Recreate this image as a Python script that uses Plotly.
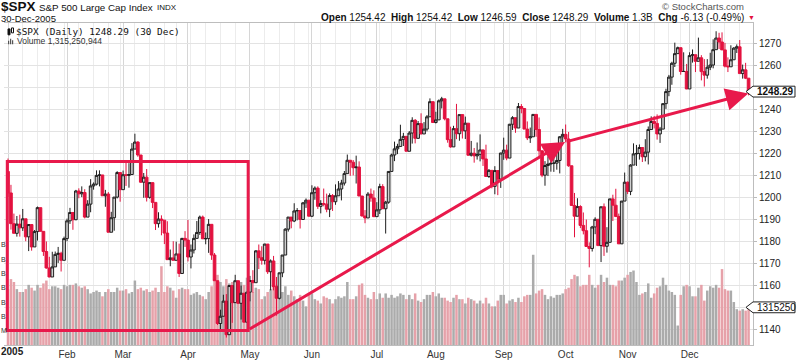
import plotly.graph_objects as go
import pandas as pd

# ---------------- data ----------------
open_ = [
 1211.9,1202.1,1188.1,1183.7,1187.9,1186.2,1190.3,1182.1,1187.7,1177.5,1184.5,1195.4,1184.6,1175.4,1167.9,1163.8,1168.4,1174.1,1174.6,1171.4,
 1181.3,1189.4,1193.2,1189.9,1203.0,1201.7,1202.3,1191.1,1197.0,1205.3,1206.1,1210.1,1210.3,1200.8,1201.6,1184.2,1190.8,1200.2,1211.4,
 1203.6,1210.4,1210.1,1210.5,1222.1,1225.3,1219.4,1207.0,1209.3,1200.1,1206.8,1197.8,1188.1,1190.2,1189.7,1183.8,1171.7,1172.5,1171.4,1174.3,1165.4,1181.4,
 1180.6,1172.9,1176.1,1181.4,1184.1,1191.1,1181.2,1181.3,1187.8,1173.8,1162.1,1142.6,1145.9,1152.8,1137.5,1159.9,1152.1,1162.1,1151.8,1156.4,1143.2,
 1156.9,1162.2,1161.2,1175.7,1172.6,1171.4,1178.8,1166.2,1171.1,1159.4,1154.1,1165.7,1173.8,1185.6,1191.1,1189.3,1193.9,1194.1,1190.0,1197.6,1198.8,
 1191.5,1202.2,1204.3,1196.0,1197.3,1197.0,1194.7,1200.9,1198.1,1200.8,1203.9,1206.6,1210.9,1217.0,1216.1,1213.6,1213.9,1200.7,1191.6,1190.7,1201.6,1199.8,
 1191.3,1194.4,1205.0,1194.9,1197.9,1211.9,1219.4,1222.2,1223.3,1226.5,1227.9,1221.1,1229.4,1235.2,1227.0,1233.7,1229.0,1231.2,1236.8,1243.7,
 1234.2,1235.4,1244.1,1245.0,1235.9,1226.4,1223.1,1231.4,1229.1,1237.8,1230.4,1233.9,1219.3,1220.2,1219.0,1219.7,1221.7,1217.6,1209.6,1212.4,1205.1,1212.3,1208.4,
 1220.3,1221.6,1218.0,1233.4,1236.4,1231.7,1241.5,1240.6,1231.2,1227.2,1227.7,1237.9,1231.0,1221.3,1210.2,1214.6,1215.3,1215.6,1215.7,1216.9,1227.7,
 1228.8,1226.7,1214.5,1196.4,1191.5,1195.9,1187.3,1184.9,1177.7,1176.8,1186.6,1190.1,1178.1,1195.8,1177.8,1179.6,1199.4,1196.5,1191.4,1178.9,1198.4,
 1207.0,1202.8,1214.8,1219.9,1220.1,1222.8,1218.6,1220.7,1231.0,1234.7,1233.8,1229.0,1231.2,1242.8,1248.3,1254.9,1261.2,1265.6,1268.3,1257.46,1257.48,
 1249.5,1264.7,1265.1,1262.1,1263.7,1257.4,1255.8,1259.4,1260.4,1267.4,1272.7,1270.9,1267.3,1259.9,1259.6,1262.8,1268.1,1268.7,1256.5,1258.2,1254.42]
high = [
 1217.8,1205.8,1192.7,1191.6,1192.2,1194.8,1190.3,1187.9,1187.9,1185.2,1195.9,1195.4,1184.6,1180.0,1173.0,1175.3,1175.4,1177.5,1175.3,1182.2,
 1190.4,1195.3,1193.2,1203.5,1204.2,1205.1,1203.8,1198.8,1208.4,1206.9,1212.4,1212.4,1210.3,1203.5,1202.5,1193.5,1200.2,1212.0,1211.4,
 1212.3,1215.9,1215.7,1224.8,1229.1,1225.7,1219.4,1211.2,1213.0,1206.9,1206.9,1197.8,1193.3,1191.9,1189.7,1189.2,1176.3,1180.1,1179.9,1179.0,1181.6,1184.7,
 1189.8,1178.6,1183.2,1189.3,1191.8,1191.8,1184.1,1190.2,1187.8,1174.7,1162.1,1148.9,1155.7,1156.0,1159.9,1159.9,1164.8,1162.1,1159.9,1156.4,1157.0,
 1164.3,1166.9,1176.0,1178.6,1177.8,1178.9,1178.8,1171.8,1173.4,1163.8,1165.8,1173.8,1186.0,1191.1,1191.1,1197.4,1195.2,1194.1,1198.0,1199.6,1198.8,
 1205.6,1205.1,1205.1,1198.8,1204.1,1201.8,1201.9,1201.6,1206.0,1207.5,1208.1,1212.1,1219.6,1217.0,1217.1,1219.1,1216.5,1200.7,1194.3,1202.5,1204.1,1203.3,
 1197.9,1206.3,1206.1,1198.5,1211.9,1220.0,1225.5,1224.5,1233.2,1229.5,1227.9,1230.3,1236.6,1235.8,1234.9,1238.4,1234.4,1237.6,1245.2,1243.7,
 1239.1,1244.7,1245.9,1245.0,1235.9,1232.3,1232.7,1242.7,1237.8,1237.8,1236.9,1233.9,1225.8,1222.6,1225.1,1228.8,1221.9,1224.1,1213.0,1212.4,1214.3,1212.3,1220.4,
 1227.3,1224.1,1233.6,1237.1,1236.4,1243.1,1242.6,1240.6,1234.7,1231.9,1237.9,1237.9,1236.5,1221.5,1216.6,1218.8,1222.6,1220.0,1220.0,1228.0,1231.3,
 1233.3,1229.9,1214.5,1202.1,1199.7,1196.5,1193.2,1190.0,1179.6,1187.1,1191.0,1190.1,1195.8,1197.3,1186.5,1199.4,1201.3,1204.0,1192.7,1198.4,1211.4,
 1207.3,1215.2,1224.7,1224.0,1224.2,1222.8,1226.6,1232.4,1237.0,1237.2,1237.9,1232.2,1242.9,1249.6,1255.9,1261.9,1270.6,1268.8,1268.4,1266.2,1260.9,
 1266.2,1267.5,1265.1,1272.9,1264.9,1263.1,1263.1,1266.0,1272.1,1275.8,1275.1,1275.3,1270.5,1263.9,1269.4,1268.6,1269.8,1271.8,1260.6,1261.4,1254.42]
low = [
 1200.3,1185.4,1183.7,1182.2,1182.2,1184.8,1180.1,1175.6,1175.8,1177.5,1180.4,1184.6,1173.4,1167.6,1163.7,1163.8,1168.4,1170.2,1166.3,1171.4,
 1180.1,1188.0,1185.3,1189.7,1199.7,1200.2,1190.5,1191.1,1193.3,1203.6,1205.5,1205.1,1200.8,1195.8,1184.2,1184.2,1184.9,1199.6,1198.1,
 1203.6,1205.3,1204.5,1210.5,1222.1,1218.6,1206.7,1199.9,1198.2,1199.5,1195.2,1185.2,1186.3,1182.8,1178.8,1171.6,1168.7,1171.4,1171.4,1163.8,1165.4,1177.5,
 1170.9,1167.7,1174.5,1181.4,1183.0,1181.2,1178.7,1174.8,1171.6,1162.1,1141.9,1139.8,1145.9,1136.2,1137.5,1142.9,1152.1,1151.7,1144.4,1143.2,1143.2,
 1152.7,1156.7,1161.2,1167.4,1169.4,1169.5,1165.2,1157.7,1157.7,1146.2,1153.6,1163.7,1173.8,1184.5,1186.0,1188.8,1189.6,1185.9,1190.0,1195.3,1191.5,
 1191.1,1199.0,1194.8,1192.8,1196.0,1193.3,1191.1,1193.9,1196.7,1200.8,1198.7,1205.5,1210.9,1209.9,1210.1,1206.4,1200.7,1191.4,1188.3,1190.7,1198.1,1191.1,
 1191.3,1192.5,1194.8,1183.6,1197.2,1211.9,1216.6,1219.8,1223.3,1223.5,1221.1,1221.1,1224.6,1224.7,1226.8,1228.8,1229.0,1230.2,1236.8,1234.2,
 1233.8,1235.4,1240.6,1235.2,1225.0,1222.7,1223.1,1226.6,1225.9,1226.9,1226.7,1219.1,1218.7,1215.9,1217.3,1216.5,1214.4,1209.6,1208.9,1204.2,1201.5,1201.1,1204.4,
 1217.2,1217.0,1218.0,1230.8,1229.5,1231.7,1238.4,1231.2,1226.2,1224.9,1227.7,1227.7,1218.0,1209.3,1205.4,1209.8,1211.8,1211.7,1212.7,1211.0,1225.2,
 1225.2,1214.0,1196.4,1181.9,1191.5,1186.1,1183.2,1177.6,1168.2,1175.4,1183.3,1178.1,1170.6,1173.4,1174.9,1179.6,1189.3,1191.1,1178.9,1178.9,1198.4,
 1201.6,1201.1,1214.8,1214.4,1217.3,1216.2,1216.5,1215.1,1231.0,1231.5,1226.4,1224.9,1231.2,1240.4,1246.2,1251.4,1259.5,1265.6,1256.0,1257.46,1249.4,
 1249.5,1261.5,1257.2,1262.1,1253.4,1250.6,1254.2,1258.1,1258.9,1267.4,1267.7,1267.3,1259.3,1257.2,1259.6,1262.8,1265.9,1256.5,1254.2,1254.0,1246.59]
close = [
 1202.1,1188.1,1183.7,1187.9,1186.2,1190.3,1182.1,1187.7,1177.5,1184.5,1195.4,1184.6,1175.4,1167.9,1163.8,1168.4,1174.1,1174.6,1171.4,1181.3,
 1189.4,1193.2,1189.9,1203.0,1201.7,1202.3,1191.1,1197.0,1205.3,1206.1,1210.1,1210.3,1200.8,1201.6,1184.2,1190.8,1200.2,1211.4,1203.6,
 1210.4,1210.1,1210.5,1222.1,1225.3,1219.4,1207.0,1209.3,1200.1,1206.8,1197.8,1188.1,1190.2,1189.7,1183.8,1171.7,1172.5,1171.4,1174.3,1165.4,1181.4,1180.6,
 1172.9,1176.1,1181.4,1184.1,1191.1,1181.2,1181.3,1187.8,1173.8,1162.1,1142.6,1145.9,1152.8,1137.5,1159.9,1152.1,1162.1,1151.8,1156.4,1143.2,1156.9,
 1162.2,1161.2,1175.7,1172.6,1171.4,1178.8,1166.2,1171.1,1159.4,1154.1,1165.7,1173.8,1185.6,1191.1,1189.3,1193.9,1194.1,1190.0,1197.6,1198.8,1191.5,
 1202.2,1204.3,1196.0,1197.3,1197.0,1194.7,1200.9,1198.1,1200.8,1203.9,1206.6,1210.9,1217.0,1216.1,1213.6,1213.9,1200.7,1191.6,1190.7,1201.6,1199.8,1191.3,
 1194.4,1205.0,1194.9,1197.9,1211.9,1219.4,1222.2,1223.3,1226.5,1227.9,1221.1,1229.4,1235.2,1227.0,1233.7,1229.0,1231.2,1236.8,1243.7,1234.2,
 1235.4,1244.1,1245.0,1235.9,1226.4,1223.1,1231.4,1229.1,1237.8,1230.4,1233.9,1219.3,1220.2,1219.0,1219.7,1221.7,1217.6,1209.6,1212.4,1205.1,1212.3,1208.4,1220.3,
 1221.6,1218.0,1233.4,1236.4,1231.7,1241.5,1240.6,1231.2,1227.2,1227.7,1237.9,1231.0,1221.3,1210.2,1214.6,1215.3,1215.6,1215.7,1216.9,1227.7,1228.8,
 1226.7,1214.5,1196.4,1191.5,1195.9,1187.3,1184.9,1177.7,1176.8,1186.6,1190.1,1178.1,1195.8,1177.8,1179.6,1199.4,1196.5,1191.4,1178.9,1198.4,1207.0,
 1202.8,1214.8,1219.9,1220.1,1222.8,1218.6,1220.7,1231.0,1234.7,1233.8,1229.0,1231.2,1242.8,1248.3,1254.9,1261.2,1265.6,1268.3,1257.46,1257.48,1249.5,
 1264.7,1265.1,1262.1,1263.7,1257.4,1255.8,1259.4,1260.4,1267.4,1272.7,1270.9,1267.3,1259.9,1259.6,1262.8,1268.1,1268.7,1256.5,1258.2,1254.42,1248.29]
# volume in billions of shares
volume = [
 1.95,2.30,2.20,1.95,1.85,1.85,1.95,2.10,2.00,1.90,2.10,2.00,2.15,2.25,1.95,2.05,2.05,2.00,1.95,2.10,
 2.05,2.10,2.10,2.15,2.05,2.00,2.05,1.95,1.80,1.85,1.90,1.85,1.70,1.85,1.95,1.85,1.85,2.00,1.90,
 1.90,1.95,1.80,1.85,2.25,1.95,2.00,1.90,1.95,1.85,1.90,2.00,1.85,2.75,1.85,2.05,2.00,1.90,1.65,1.95,2.00,1.95,
 1.95,1.75,1.80,1.85,1.75,1.70,1.60,1.85,2.05,2.25,2.45,2.20,2.05,2.30,2.15,2.20,1.90,2.05,2.20,2.10,2.35,
 1.95,1.85,2.00,1.95,1.60,1.70,1.85,1.95,2.05,2.10,1.80,1.85,2.05,1.75,1.90,1.70,1.60,1.75,1.55,1.35,1.75,
 1.80,1.60,1.55,1.45,1.70,1.65,1.60,1.45,1.60,1.70,1.65,1.70,2.20,1.60,1.60,1.70,2.10,2.15,1.75,1.65,1.60,1.85,
 1.60,1.80,1.65,1.80,1.65,1.75,1.65,1.70,1.80,1.75,1.60,1.75,1.60,1.80,1.55,1.50,1.60,1.75,1.75,1.85,
 1.70,1.80,1.65,1.65,1.55,1.50,1.65,1.75,1.60,1.60,1.45,1.65,1.60,1.55,1.45,1.55,1.45,1.65,1.45,1.35,1.35,1.55,1.75,
 1.75,1.45,1.55,1.60,1.50,1.65,1.50,1.70,1.75,1.75,3.15,1.80,1.90,1.95,1.75,1.60,1.70,1.65,1.75,1.75,1.80,
 1.95,2.00,2.30,2.45,2.40,2.05,2.10,2.10,2.45,2.10,2.00,2.10,2.45,2.20,2.35,2.10,2.10,2.05,2.25,2.25,2.35,
 2.45,2.55,2.60,2.20,1.75,1.80,1.85,2.15,1.65,1.80,2.00,2.05,2.35,2.10,1.90,1.85,1.75,0.68,1.75,2.05,2.10,
 2.05,1.70,1.70,2.00,2.10,1.55,1.90,2.05,2.00,2.10,2.00,2.65,1.95,1.90,1.90,1.50,1.25,1.20,1.25,1.20,1.315]

price_ticks = [1140, 1150, 1160, 1170, 1180, 1190, 1200, 1210, 1220, 1230, 1240, 1250, 1260, 1270]
price_tick_text = ["1140", "", "1160", "1170", "1180", "1190", "1200", "1210", "1220", "1230", "1240", "", "1260", "1270"]
# left volume-axis labels: only their last letter shows at the window edge
vol_ticks = [0.5, 1.0, 1.5, 2.0, 2.5, 3.0, 3.5]
vol_tick_tail = ["M", "B", "B", "B", "B", "B", "B"]
holidays = ["2005-01-17", "2005-02-21", "2005-03-25", "2005-05-30",
            "2005-07-04", "2005-09-05", "2005-11-24", "2005-12-26"]

# ---------------- derived ----------------
days = [d for d in pd.bdate_range("2005-01-03", "2005-12-30") if d.strftime("%Y-%m-%d") not in holidays]
idx = list(range(len(close)))
month_start = [i for i in idx if i == 0 or days[i].month != days[i - 1].month]
week_start = [i for i in idx if i == 0 or days[i].isocalendar()[1] != days[i - 1].isocalendar()[1]]
month_text = ["" if days[i].month == 1 else days[i].strftime("%b") for i in month_start]
prev_close = [open_[0]] + close[:-1]
vol_colors = ["#e6a1a9" if c < p else "#ababab" for c, p in zip(close, prev_close)]

RED = "#e3123f"
ANN = "#e8194b"
PMIN, PMAX = 1132.8, 1279.56
VMIN, VMAX = 0.0, 11.24
XMIN, XMAX = -1.36, 252.5

# pixel helpers (plot area: x 4..753, y 23..350)
L, R, T, B = 4, 753, 23, 350
def px(x):
    return (x - L) / (R - L)
def py(y):
    return (B - y) / (B - T)
def price_pix(v):
    return T + (PMAX - v) / (PMAX - PMIN) * (B - T)
def vol_pix(v):
    return T + (VMAX - v) / (VMAX - VMIN) * (B - T)

fig = go.Figure()
fig.add_trace(go.Bar(x=idx, y=volume, marker=dict(color=vol_colors, line=dict(width=0)),
                     yaxis="y", hoverinfo="skip", showlegend=False))
fig.add_trace(go.Candlestick(
    x=idx, open=open_, high=high, low=low, close=close, yaxis="y2",
    increasing=dict(line=dict(color="#1e1e1e", width=1), fillcolor="#cfcfcf"),
    decreasing=dict(line=dict(color=RED, width=1), fillcolor=RED),
    whiskerwidth=0, showlegend=False))

shapes = []
# hand-drawn rectangle
shapes.append(dict(type="rect", xref="x", yref="y2", x0=-0.24, x1=81.4, y0=1139.4, y1=1216.4,
                   line=dict(color=ANN, width=3), layer="above"))

# price / volume tags on the right axis
def tag(ycen, h=11):
    x0, xb, x1 = 746, 753, 795
    pts = [(x0, ycen), (xb, ycen - h / 2), (x1, ycen - h / 2), (x1, ycen + h / 2), (xb, ycen + h / 2)]
    path = "M" + " L".join(f"{px(a):.5f},{py(b):.5f}" for a, b in pts) + " Z"
    return dict(type="path", xref="paper", yref="paper", path=path,
                line=dict(color="#222", width=1), fillcolor="white", layer="above")
shapes.append(tag(price_pix(close[-1])))
shapes.append(tag(vol_pix(volume[-1])))

# small legend icons
shapes.append(dict(type="rect", xref="paper", yref="paper", x0=px(8), x1=px(10), y0=py(35), y1=py(29),
                   line=dict(color="#111", width=1), fillcolor="#111"))
shapes.append(dict(type="rect", xref="paper", yref="paper", x0=px(11.5), x1=px(13.5), y0=py(33), y1=py(28),
                   line=dict(color="#111", width=1), fillcolor="white"))
for bx, bt in [(8, 41), (10, 39), (12, 40.5)]:
    shapes.append(dict(type="rect", xref="paper", yref="paper", x0=px(bx), x1=px(bx + 1.2), y0=py(44.5), y1=py(bt),
                       line=dict(width=0), fillcolor="#555"))

annotations = []
# arrows
annotations.append(dict(x=188.8, y=1225.3, ax=81.4, ay=1139.7, xref="x", yref="y2", axref="x", ayref="y2",
                        showarrow=True, arrowhead=2, arrowsize=1.5, arrowwidth=3, arrowcolor=ANN, text=""))
annotations.append(dict(x=250.9, y=1247.4, ax=188.8, ay=1225.3, xref="x", yref="y2", axref="x", ayref="y2",
                        showarrow=True, arrowhead=2, arrowsize=1.5, arrowwidth=3, arrowcolor=ANN, text=""))

FONT = "Arial, Liberation Sans, sans-serif"
def txt(x, y, s, size, color="#111", anchor="left", family=FONT):
    annotations.append(dict(x=px(x), y=py(y), xref="paper", yref="paper", text=s, showarrow=False,
                            xanchor=anchor, yanchor="middle", font=dict(size=size, color=color, family=family),
                            borderpad=0))

txt(0, 6.5, "<b>$SPX</b>", 13.5)
txt(38, 7.5, "S&P 500 Large Cap Index", 9.8)
txt(156, 7.5, "INDX", 8)
txt(0, 18.5, "30-Dec-2005", 9.5)
txt(745, 17.5, "<b>Open</b> 1254.42  <b>High</b> 1254.42  <b>Low</b> 1246.59  <b>Close</b> 1248.29  "
               "<b>Volume</b> 1.3B  <b>Chg</b> -6.13 (-0.49%)", 10, anchor="right")
txt(751, 17.5, "▼", 7, color=RED, anchor="center")
txt(745, 6, "© StockCharts.com", 9.5, color="#555", anchor="right")
txt(15, 32, "$SPX (Daily) 1248.29 (30 Dec)", 9.4, family="DejaVu Sans Mono, monospace")
txt(16, 41.5, "Volume 1,315,250,944", 8.5, color="#333")
txt(756, price_pix(close[-1]), "<b>1248.29</b>", 10)
txt(756, vol_pix(volume[-1]), "1315250", 10)
txt(0, 357, "<b>2005</b>", 10, color="#222")
for v, s in zip(vol_ticks, vol_tick_tail):
    annotations.append(dict(x=px(0), y=v, xref="paper", yref="y", text=s, showarrow=False, xanchor="left",
                            yanchor="middle", borderpad=0, font=dict(size=7, color="#333", family=FONT)))

fig.update_layout(
    width=800, height=364, margin=dict(l=L, r=800 - R, t=T, b=364 - B),
    paper_bgcolor="white", plot_bgcolor="white", bargap=0.15, boxgap=0.1, boxgroupgap=0,
    showlegend=False, font=dict(family=FONT, size=10, color="#222"),
    xaxis=dict(range=[XMIN, XMAX], tickvals=month_start, ticktext=month_text, ticks="",
               showgrid=True, gridcolor="#d6d6d6", gridwidth=1, zeroline=False,
               minor=dict(tickvals=week_start, showgrid=True, gridcolor="#ececec", gridwidth=1),
               rangeslider=dict(visible=False), showline=True, linecolor="#bdbdbd", mirror=True,
               tickfont=dict(size=10, color="#333"), fixedrange=True),
    yaxis=dict(range=[VMIN, VMAX], visible=False, showgrid=False, fixedrange=True),
    yaxis2=dict(range=[PMIN, PMAX], overlaying="y", side="right", tickvals=price_ticks, ticktext=price_tick_text,
                showgrid=True, gridcolor="#e3e3e3", zeroline=False, ticks="outside", ticklen=3,
                tickcolor="#bbb", showline=True, linecolor="#bdbdbd", tickfont=dict(size=10, color="#222"),
                fixedrange=True),
    shapes=shapes, annotations=annotations,
)
fig.write_html("out.html", config={"displayModeBar": False},
               post_script="document.body.style.margin='0';document.body.style.overflow='hidden';")
